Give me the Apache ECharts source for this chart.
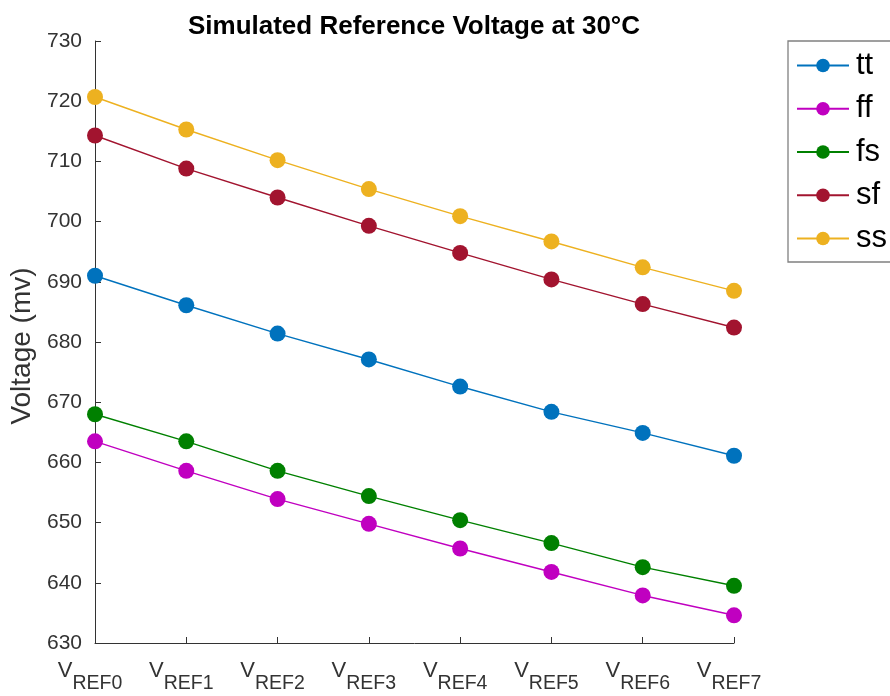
<!DOCTYPE html>
<html>
<head>
<meta charset="utf-8">
<script src="https://cdn.jsdelivr.net/npm/echarts@6/dist/echarts.min.js"></script>
<style>
  html, body { margin: 0; padding: 0; background: #fff; }
  #chart { width: 890px; height: 696px; }
</style>
</head>
<body>
<div id="chart"></div>
<script>
// Reference voltage ladder taps, simulated at 30 °C for each process corner
const categories = ['REF0', 'REF1', 'REF2', 'REF3', 'REF4', 'REF5', 'REF6', 'REF7'];
const tt = [691.0, 686.1, 681.4, 677.1, 672.6, 668.4, 664.9, 661.1];
const ff = [663.5, 658.6, 653.9, 649.8, 645.7, 641.8, 637.9, 634.6];
const fs = [668.0, 663.5, 658.6, 654.4, 650.4, 646.6, 642.6, 639.5];
const sf = [714.3, 708.8, 704.0, 699.3, 694.8, 690.4, 686.3, 682.4];
const ss = [720.7, 715.3, 710.2, 705.4, 700.9, 696.7, 692.4, 688.5];
const yTicks = { min: 630, max: 730, step: 10 };

const seriesDefs = [
  { name: 'tt', data: tt, color: '#0072BD' },
  { name: 'ff', data: ff, color: '#C000C0' },
  { name: 'fs', data: fs, color: '#008000' },
  { name: 'sf', data: sf, color: '#A2142F' },
  { name: 'ss', data: ss, color: '#EDB120' }
];

const axisColor = '#333333';
const font = 'Helvetica, Arial, "Liberation Sans", sans-serif';

const chart = echarts.init(document.getElementById('chart'), null, { renderer: 'canvas' });
chart.setOption({
  animation: false,
  backgroundColor: '#ffffff',
  title: {
    text: 'Simulated Reference Voltage at 30°C',
    left: 409,
    textAlign: 'center',
    top: 9,
    textStyle: { fontFamily: font, fontSize: 26, fontWeight: 'bold', color: '#000' }
  },
  grid: { left: 95, right: 156, top: 41, bottom: 53, containLabel: false, outerBoundsMode: 'none' },
  legend: {
    orient: 'vertical',
    left: 788,
    top: 41,
    padding: [9, 6, 8, 8],
    itemWidth: 52,
    itemHeight: 17,
    itemGap: 12.25,
    borderColor: '#808080',
    borderWidth: 1.3,
    backgroundColor: '#fff',
    textStyle: { fontFamily: font, fontSize: 31, color: '#000', padding: [0, 0, 0, 2] },
    data: seriesDefs.map(s => s.name)
  },
  xAxis: {
    type: 'category',
    data: categories,
    boundaryGap: false,
    axisLine: { lineStyle: { color: axisColor, width: 1 } },
    axisTick: { inside: true, length: 6, lineStyle: { color: axisColor } },
    splitLine: { show: false },
    axisLabel: {
      margin: 17,
      interval: 0,
      formatter: v => '{v|V}{s|' + v + '}',
      rich: {
        v: { fontFamily: font, fontSize: 22, color: axisColor, lineHeight: 22, verticalAlign: 'top' },
        s: { fontFamily: font, fontSize: 19.5, color: axisColor, lineHeight: 34, verticalAlign: 'bottom', padding: [0, 10, 0, 0] }
      }
    }
  },
  yAxis: {
    type: 'value',
    min: yTicks.min,
    max: yTicks.max,
    interval: yTicks.step,
    name: 'Voltage (mv)',
    nameLocation: 'middle',
    nameGap: 56,
    nameTextStyle: { fontFamily: font, fontSize: 28, color: axisColor, padding: [0, 8, 0, 0] },
    axisLine: { show: true, lineStyle: { color: axisColor, width: 1 } },
    axisTick: { show: true, inside: true, length: 6, lineStyle: { color: axisColor } },
    splitLine: { show: false },
    axisLabel: { margin: 13, fontFamily: font, fontSize: 21, color: axisColor }
  },
  series: seriesDefs.map(s => ({
    name: s.name,
    type: 'line',
    data: s.data,
    symbol: 'circle',
    symbolSize: 16,
    showSymbol: true,
    itemStyle: { color: s.color, borderWidth: 0 },
    lineStyle: { color: s.color, width: 1.4 },
    emphasis: { disabled: true }
  }))
});
</script>
</body>
</html>
